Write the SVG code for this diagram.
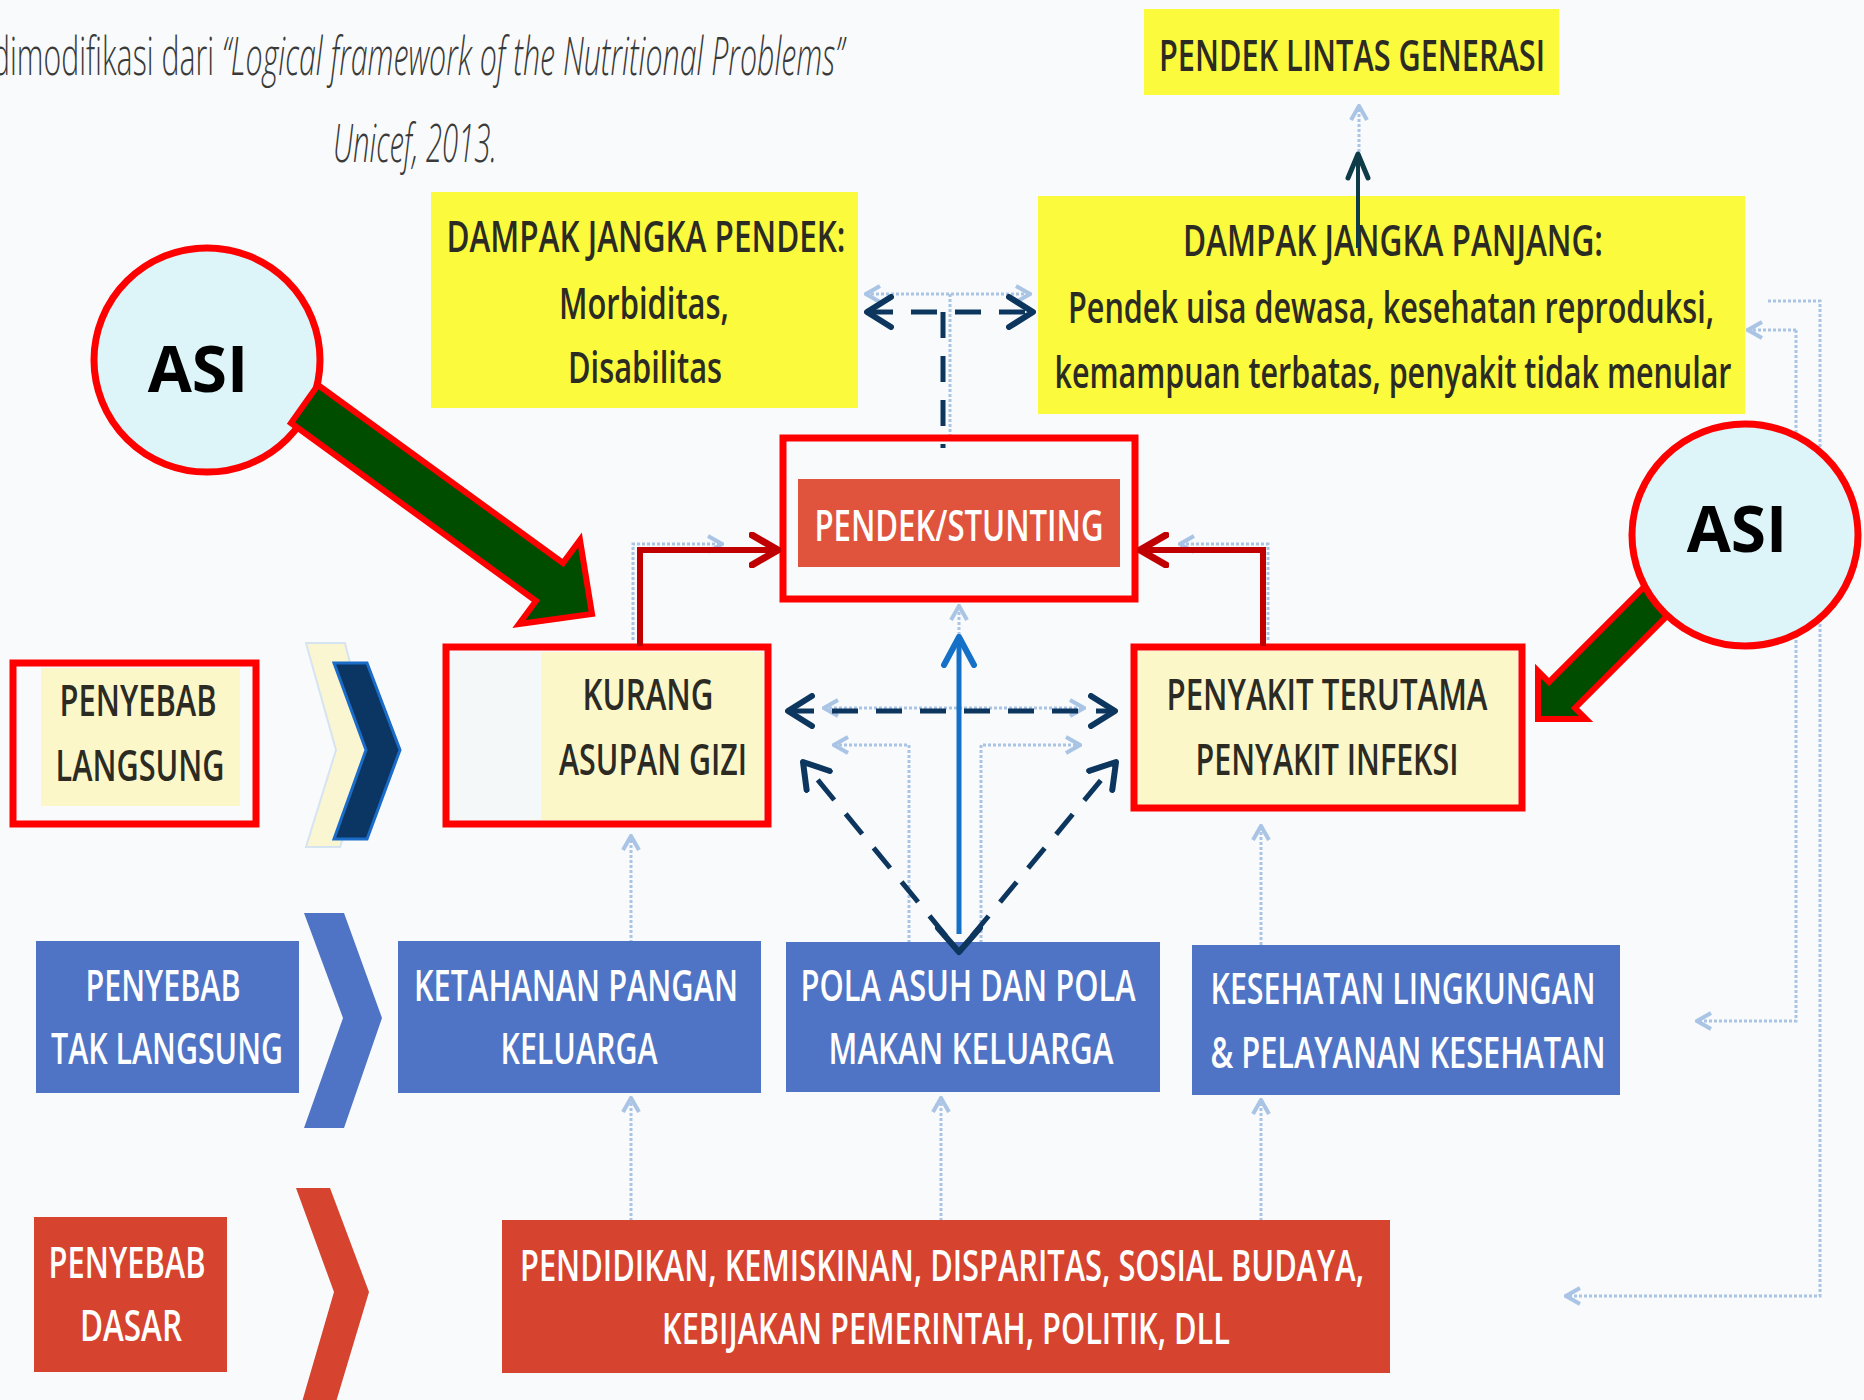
<svg xmlns="http://www.w3.org/2000/svg" width="1864" height="1400" viewBox="0 0 1864 1400">
  <defs>
    <style>
      .lbl{font-family:"Open Sans","Liberation Sans",sans-serif;font-weight:600;font-size:44px;text-anchor:middle;}
      .dk{fill:#2b2b24;}
      .wh{fill:#ffffff;}
      .frame{fill:none;stroke:#ff0000;stroke-width:7;}
      .pale{fill:#fbf7c9;}
      .yel{fill:#fbfa3c;}
      .blue{fill:#4f74c6;}
      .red{fill:#d6432f;}
      .ghost{fill:none;stroke:#a9c4e4;stroke-width:3;stroke-dasharray:3 2;}
      .nav{fill:none;stroke:#0d365e;stroke-width:5;stroke-dasharray:26 18;}
      .dred{fill:none;stroke:#c00000;stroke-width:6;}
      .blu{fill:none;stroke:#1570c8;stroke-width:5;}
      .asi{fill:#ddf4f8;stroke:#ff0000;stroke-width:7;}
      .asit{font-family:"Open Sans","Liberation Sans",sans-serif;font-weight:700;font-size:64px;text-anchor:middle;fill:#000;}
      .push{fill:#004d00;stroke:#ff0000;stroke-width:6;stroke-linejoin:miter;}
      .ttl{font-family:"Open Sans","Liberation Sans",sans-serif;font-weight:300;font-size:54px;fill:#3a3a3a;}
    </style>
    <marker id="hNav" markerUnits="userSpaceOnUse" viewBox="0 0 30 36" refX="27" refY="18" markerWidth="30" markerHeight="36" orient="auto-start-reverse">
      <path d="M3,3 L27,18 L3,33" fill="none" stroke="#0d365e" stroke-width="6" stroke-linecap="round" stroke-linejoin="round"/>
    </marker>
    <marker id="hRed" markerUnits="userSpaceOnUse" viewBox="0 0 32 36" refX="29" refY="18" markerWidth="32" markerHeight="36" orient="auto-start-reverse">
      <path d="M3,3 L29,18 L3,33" fill="none" stroke="#c00000" stroke-width="7" stroke-linecap="round" stroke-linejoin="round"/>
    </marker>
    <marker id="hBlue" markerUnits="userSpaceOnUse" viewBox="0 0 34 36" refX="31" refY="18" markerWidth="34" markerHeight="36" orient="auto-start-reverse">
      <path d="M3,3 L31,18 L3,33" fill="none" stroke="#1570c8" stroke-width="6" stroke-linecap="round" stroke-linejoin="round"/>
    </marker>
    <marker id="hDark" markerUnits="userSpaceOnUse" viewBox="0 0 30 26" refX="27" refY="13" markerWidth="30" markerHeight="26" orient="auto">
      <path d="M3,3 L27,13 L3,23" fill="none" stroke="#0e3b48" stroke-width="5" stroke-linecap="round" stroke-linejoin="round"/>
    </marker>
    <marker id="hGh" markerUnits="userSpaceOnUse" viewBox="0 0 18 20" refX="16" refY="10" markerWidth="18" markerHeight="20" orient="auto-start-reverse">
      <path d="M2,2 L16,10 L2,18" fill="none" stroke="#a9c4e4" stroke-width="4"/>
    </marker>
  </defs>

  <rect x="0" y="0" width="1864" height="1400" fill="#f8fafb"/>

  <!-- source note -->
  <g id="title">
    <text class="ttl" x="-8" y="75" textLength="222" lengthAdjust="spacingAndGlyphs">dimodifikasi dari</text>
    <text class="ttl" x="222" y="75" font-style="italic" textLength="622" lengthAdjust="spacingAndGlyphs">“Logical framework of the Nutritional Problems”</text>
    <text class="ttl" x="333" y="162" font-style="italic" textLength="164" lengthAdjust="spacingAndGlyphs">Unicef, 2013.</text>
  </g>

  <!-- faint underlying framework links -->
  <g id="faint-links">
    <path class="ghost" d="M631,943 V836" marker-end="url(#hGh)"/>
    <path class="ghost" d="M631,1221 V1098" marker-end="url(#hGh)"/>
    <path class="ghost" d="M941,1221 V1098" marker-end="url(#hGh)"/>
    <path class="ghost" d="M1261,1221 V1100" marker-end="url(#hGh)"/>
    <path class="ghost" d="M1261,945 V826" marker-end="url(#hGh)"/>
    <path class="ghost" d="M909,943 V745 H834" marker-end="url(#hGh)"/>
    <path class="ghost" d="M981,943 V745 H1080" marker-end="url(#hGh)"/>
    <path class="ghost" d="M824,708 H1084" marker-start="url(#hGh)" marker-end="url(#hGh)"/>
    <path class="ghost" d="M959,640 V606" marker-end="url(#hGh)"/>
    <path class="ghost" d="M633,640 V544 H722" marker-end="url(#hGh)"/>
    <path class="ghost" d="M1268,640 V544 H1180" marker-end="url(#hGh)"/>
    <path class="ghost" d="M866,294 H1030" marker-start="url(#hGh)" marker-end="url(#hGh)"/>
    <path class="ghost" d="M950,294 V440"/>
    <path class="ghost" d="M1359,152 V106" marker-end="url(#hGh)"/>
    <path class="ghost" d="M1768,301 H1820 V1296 H1566" marker-end="url(#hGh)"/>
    <path class="ghost" d="M1796,330 V1021 H1697" marker-end="url(#hGh)"/>
    <path class="ghost" d="M1796,330 H1748" marker-end="url(#hGh)"/>
  </g>

  <!-- level markers -->
  <g id="level-direct">
    <rect class="frame" x="13" y="663" width="243" height="161"/>
    <rect class="pale" x="41" y="668" width="199" height="138"/>
    <text class="lbl dk" x="138" y="716" textLength="157" lengthAdjust="spacingAndGlyphs">PENYEBAB</text>
    <text class="lbl dk" x="140" y="781" textLength="169" lengthAdjust="spacingAndGlyphs">LANGSUNG</text>
    <path d="M306,643 H345 L372,750 L340,847 H306 L336,750 Z" fill="#fbf6d2" stroke="#d6e4f2" stroke-width="2"/>
    <path d="M334,663 H367 L400,750 L367,839 H334 L366,750 Z" fill="#0b3562" stroke="#1a6cc8" stroke-width="3"/>
  </g>

  <g id="level-indirect">
    <rect class="blue" x="36" y="941" width="263" height="152"/>
    <text class="lbl wh" x="163" y="1001" textLength="155" lengthAdjust="spacingAndGlyphs">PENYEBAB</text>
    <text class="lbl wh" x="167" y="1064" textLength="232" lengthAdjust="spacingAndGlyphs">TAK LANGSUNG</text>
    <path class="blue" d="M304,913 H344 L382,1018 L344,1128 H304 L343,1018 Z"/>
  </g>

  <g id="level-basic">
    <rect class="red" x="34" y="1217" width="193" height="155"/>
    <text class="lbl wh" x="127" y="1278" textLength="157" lengthAdjust="spacingAndGlyphs">PENYEBAB</text>
    <text class="lbl wh" x="131" y="1341" textLength="102" lengthAdjust="spacingAndGlyphs">DASAR</text>
    <path class="red" d="M296,1188 H330 L369,1292 L336,1402 H302 L334,1292 Z"/>
  </g>

  <!-- outcome boxes -->
  <g id="pendek-lintas-generasi">
    <rect class="yel" x="1144" y="9" width="415" height="86"/>
    <text class="lbl dk" x="1352" y="71" textLength="386" lengthAdjust="spacingAndGlyphs">PENDEK LINTAS GENERASI</text>
  </g>

  <g id="dampak-jangka-pendek">
    <rect class="yel" x="431" y="192" width="427" height="216"/>
    <text class="lbl dk" x="646" y="252" textLength="399" lengthAdjust="spacingAndGlyphs">DAMPAK JANGKA PENDEK:</text>
    <text class="lbl dk" x="644" y="319" textLength="170" lengthAdjust="spacingAndGlyphs">Morbiditas,</text>
    <text class="lbl dk" x="645" y="383" textLength="154" lengthAdjust="spacingAndGlyphs">Disabilitas</text>
  </g>

  <g id="dampak-jangka-panjang">
    <rect class="yel" x="1038" y="196" width="707" height="218"/>
    <text class="lbl dk" x="1393" y="256" textLength="420" lengthAdjust="spacingAndGlyphs">DAMPAK JANGKA PANJANG:</text>
    <text class="lbl dk" x="1391" y="323" font-size="40" textLength="646" lengthAdjust="spacingAndGlyphs">Pendek uisa dewasa, kesehatan reproduksi,</text>
    <text class="lbl dk" x="1393" y="388" font-size="40" textLength="677" lengthAdjust="spacingAndGlyphs">kemampuan terbatas, penyakit tidak menular</text>
  </g>

  <g id="pendek-stunting">
    <rect class="frame" x="783" y="438" width="352" height="161"/>
    <rect x="798" y="479" width="322" height="88" fill="#e0533c"/>
    <text class="lbl wh" x="959" y="541" textLength="289" lengthAdjust="spacingAndGlyphs">PENDEK/STUNTING</text>
  </g>

  <g id="kurang-asupan-gizi">
    <rect x="446" y="647" width="322" height="177" fill="#f4f8f8"/>
    <rect class="pale" x="541" y="652" width="222" height="168"/>
    <rect class="frame" x="446" y="647" width="322" height="177"/>
    <text class="lbl dk" x="648" y="710" textLength="131" lengthAdjust="spacingAndGlyphs">KURANG</text>
    <text class="lbl dk" x="653" y="775" textLength="188" lengthAdjust="spacingAndGlyphs">ASUPAN GIZI</text>
  </g>

  <g id="penyakit-infeksi">
    <rect class="pale" x="1138" y="651" width="380" height="154"/>
    <rect class="frame" x="1134" y="647" width="388" height="161"/>
    <text class="lbl dk" x="1327" y="710" textLength="321" lengthAdjust="spacingAndGlyphs">PENYAKIT TERUTAMA</text>
    <text class="lbl dk" x="1327" y="775" textLength="263" lengthAdjust="spacingAndGlyphs">PENYAKIT INFEKSI</text>
  </g>

  <!-- indirect causes -->
  <g id="ketahanan-pangan">
    <rect class="blue" x="398" y="941" width="363" height="152"/>
    <text class="lbl wh" x="576" y="1001" textLength="324" lengthAdjust="spacingAndGlyphs">KETAHANAN PANGAN</text>
    <text class="lbl wh" x="579" y="1064" textLength="157" lengthAdjust="spacingAndGlyphs">KELUARGA</text>
  </g>

  <g id="pola-asuh">
    <rect class="blue" x="786" y="942" width="374" height="150"/>
    <text class="lbl wh" x="968" y="1001" textLength="335" lengthAdjust="spacingAndGlyphs">POLA ASUH DAN POLA</text>
    <text class="lbl wh" x="971" y="1064" textLength="285" lengthAdjust="spacingAndGlyphs">MAKAN KELUARGA</text>
  </g>

  <g id="kesehatan-lingkungan">
    <rect class="blue" x="1192" y="945" width="428" height="150"/>
    <text class="lbl wh" x="1403" y="1004" textLength="385" lengthAdjust="spacingAndGlyphs">KESEHATAN LINGKUNGAN</text>
    <text class="lbl wh" x="1408" y="1068" textLength="395" lengthAdjust="spacingAndGlyphs">&amp; PELAYANAN KESEHATAN</text>
  </g>

  <!-- basic causes -->
  <g id="penyebab-dasar">
    <rect class="red" x="502" y="1220" width="888" height="153"/>
    <text class="lbl wh" x="942" y="1281" textLength="844" lengthAdjust="spacingAndGlyphs">PENDIDIKAN, KEMISKINAN, DISPARITAS, SOSIAL BUDAYA,</text>
    <text class="lbl wh" x="946" y="1344" textLength="568" lengthAdjust="spacingAndGlyphs">KEBIJAKAN PEMERINTAH, POLITIK, DLL</text>
  </g>

  <!-- connectors -->
  <g id="connectors">
    <path class="nav" d="M867,312 H1033" marker-start="url(#hNav)" marker-end="url(#hNav)"/>
    <path class="nav" d="M943,312 V448"/>
    <path d="M1358,248 V154" fill="none" stroke="#0e3b48" stroke-width="4" marker-end="url(#hDark)"/>
    <path class="dred" d="M640,646 V550 H778" marker-end="url(#hRed)"/>
    <path class="dred" d="M1263,646 V550 H1140" marker-end="url(#hRed)"/>
    <path class="nav" d="M788,711 H1115" marker-start="url(#hNav)" marker-end="url(#hNav)"/>
    <path class="nav" d="M946,936 L803,762" marker-end="url(#hNav)"/>
    <path class="nav" d="M972,936 L1116,762" marker-end="url(#hNav)"/>
    <path class="blu" d="M959,934 V637" marker-end="url(#hBlue)"/>
    <path d="M938,928 L959,952 L980,928" fill="none" stroke="#0d365e" stroke-width="6" stroke-linecap="round" stroke-linejoin="round"/>
  </g>

  <!-- breastfeeding callouts -->
  <g id="asi-left">
    <ellipse class="asi" cx="207" cy="360" rx="113" ry="112"/>
    <text class="asit" x="198" y="392">ASI</text>
    <path class="push" d="M318,385 L563,563 L580,540 L592,614 L519,624 L536,601 L291,423 Z"/>
  </g>

  <g id="asi-right">
    <path class="push" d="M1538,719 L1538,671 L1549,682 L1653,578 L1679,604 L1575,708 L1586,719 Z"/>
    <ellipse class="asi" cx="1745" cy="535" rx="113" ry="111"/>
    <text class="asit" x="1737" y="552">ASI</text>
  </g>
</svg>
